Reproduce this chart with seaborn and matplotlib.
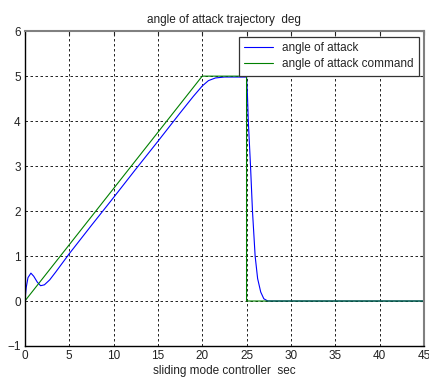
import matplotlib
matplotlib.use("Agg")
import matplotlib.pyplot as plt
import seaborn as sns
import pandas as pd

# Command profile: ramp to 5 deg, hold, then step back to zero
cmd_time = [0, 20, 25, 25, 45]
cmd_alpha = [0, 5, 5, 0, 0]

# Measured angle of attack response under the sliding mode controller
aoa_time = [0, 0.15, 0.35, 0.68, 1.0, 1.4, 1.77, 2.2, 2.8, 3.5, 5, 7.5, 10, 12.5,
            15, 17.5, 19, 20, 20.7, 21.5, 22.5, 25, 25.1, 25.2, 25.45, 25.67,
            25.97, 26.25, 26.6, 26.95, 27.4, 28, 45]
aoa_alpha = [0, 0.3, 0.52, 0.62, 0.55, 0.42, 0.34, 0.36, 0.47, 0.65, 1.05, 1.68,
             2.3, 2.93, 3.55, 4.18, 4.55, 4.78, 4.9, 4.96, 4.98, 4.98, 4.6, 4.0,
             3.0, 2.0, 1.0, 0.5, 0.2, 0.05, 0.0, 0.0, 0.0]

x_ticks = list(range(0, 46, 5))
y_ticks = list(range(-1, 7))

sns.set_theme(style="white")
plt.rcParams["font.family"] = ["Liberation Sans", "DejaVu Sans"]

aoa = pd.DataFrame({"t": aoa_time, "alpha": aoa_alpha})
cmd = pd.DataFrame({"t": cmd_time, "alpha": cmd_alpha})

fig = plt.figure(figsize=(4.29, 3.80), dpi=100, facecolor="white")
ax = fig.add_axes([0.058, 0.0895, 0.93, 0.8285])

sns.lineplot(data=aoa, x="t", y="alpha", ax=ax, color="#0000ff", lw=0.8,
             label="angle of attack", sort=False, estimator=None)
sns.lineplot(data=cmd, x="t", y="alpha", ax=ax, color="#008000", lw=0.8,
             label="angle of attack command", sort=False, estimator=None)

ax.set_xlim(0, 45)
ax.set_ylim(-1, 6)
ax.set_xticks(x_ticks)
ax.set_yticks(y_ticks)
ax.grid(True, color="black", linestyle=(0, (3, 3)), linewidth=0.6)
ax.tick_params(axis="both", direction="in", length=3, width=0.8, labelsize=8.5,
               colors="#222222", top=True, right=True, pad=3)

for side in ("left", "bottom"):
    ax.spines[side].set_color("black")
    ax.spines[side].set_linewidth(1.0)
for side in ("top", "right"):
    ax.spines[side].set_color("#808080")
    ax.spines[side].set_linewidth(1.5)

ax.set_title("angle of attack trajectory  deg", fontsize=8.5, pad=6, color="#222222")
ax.set_xlabel("sliding mode controller  sec", fontsize=8.5, labelpad=2, color="#222222")
ax.set_ylabel("")

leg = ax.legend(loc="upper right", bbox_to_anchor=(0.988, 0.982), fontsize=8.5,
                frameon=True, fancybox=False, edgecolor="#333333", framealpha=1,
                borderaxespad=0.0, handlelength=2.4, handletextpad=0.8,
                borderpad=0.45, labelspacing=0.35)
leg.get_frame().set_linewidth(0.9)

fig.savefig("out.png", dpi=100, facecolor="white")
